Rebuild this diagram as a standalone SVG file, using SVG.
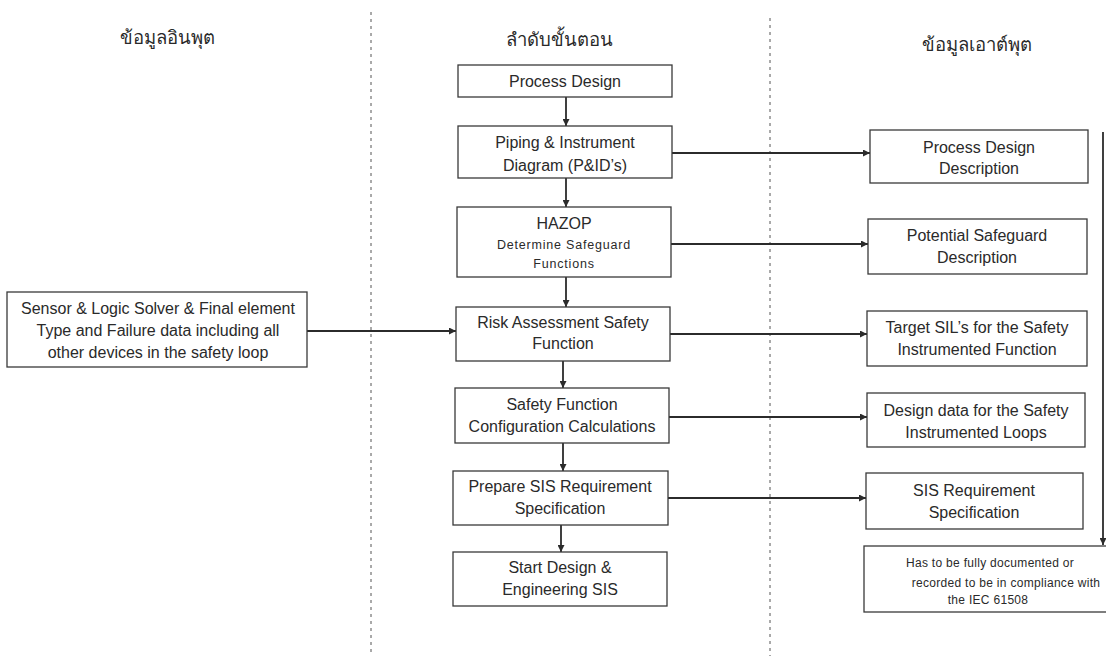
<svg xmlns="http://www.w3.org/2000/svg" width="1106" height="658" viewBox="0 0 1106 658">
  <defs>
    <marker id="arrow" viewBox="0 0 10 10" refX="10" refY="5" markerWidth="7" markerHeight="7" markerUnits="userSpaceOnUse" orient="auto">
      <path d="M0,0 L10,5 L0,10 z" fill="#2b2b2b"/>
    </marker>
    <style>
      .box { fill: #ffffff; stroke: #3a3a3a; stroke-width: 1.3; }
      .lbl { font-family: "Liberation Sans", Arial, sans-serif; font-size: 16px; fill: #2a2a2a; text-anchor: middle; }
      .sm { font-size: 12.5px; letter-spacing: 0.8px; }
      .note { font-size: 12px; letter-spacing: 0.3px; }
      .hdr { font-family: "Noto Sans", "DejaVu Sans", sans-serif; font-size: 18.5px; fill: #2a2a2a; text-anchor: middle; }
      .edge { fill: none; stroke: #2b2b2b; stroke-width: 1.8; marker-end: url(#arrow); }
      .lane { stroke: #555555; stroke-width: 1; stroke-dasharray: 3 4; }
    </style>
  </defs>
  <rect width="1106" height="658" fill="#ffffff"/>

  <!-- column separators -->
  <g id="lanes">
    <line class="lane" x1="371" y1="12" x2="371" y2="656"/>
    <line class="lane" x1="770" y1="18" x2="770" y2="656"/>
  </g>

  <!-- column headings -->
  <g id="headings">
    <text class="hdr" x="167" y="44">ข้อมูลอินพุต</text>
    <text class="hdr" x="559" y="46">ลำดับขั้นตอน</text>
    <text class="hdr" x="977" y="51">ข้อมูลเอาต์พุต</text>
  </g>

  <!-- connectors -->
  <g id="connectors">
    <line class="edge" x1="566" y1="97" x2="566" y2="126"/>
    <line class="edge" x1="566" y1="178" x2="566" y2="207"/>
    <line class="edge" x1="566" y1="277" x2="566" y2="307"/>
    <line class="edge" x1="563" y1="361" x2="563" y2="388"/>
    <line class="edge" x1="563" y1="443" x2="563" y2="471"/>
    <line class="edge" x1="561" y1="525" x2="561" y2="552"/>
    <line class="edge" x1="672" y1="153" x2="870" y2="153"/>
    <line class="edge" x1="671" y1="244" x2="868" y2="244"/>
    <line class="edge" x1="307" y1="331" x2="456" y2="331"/>
    <line class="edge" x1="670" y1="334" x2="867" y2="334"/>
    <line class="edge" x1="669" y1="417" x2="867" y2="417"/>
    <line class="edge" x1="668" y1="498" x2="866" y2="498"/>
    <line class="edge" x1="1103" y1="132" x2="1103" y2="545"/>
  </g>

  <!-- input -->
  <g id="input-data">
    <rect class="box" x="7" y="292" width="300" height="75"/>
    <text class="lbl" x="158" y="314">Sensor &amp; Logic Solver &amp; Final element</text>
    <text class="lbl" x="158" y="336">Type and Failure data including all</text>
    <text class="lbl" x="158" y="358">other devices in the safety loop</text>
  </g>

  <!-- procedure steps -->
  <g id="process-design">
    <rect class="box" x="458" y="65" width="214" height="32"/>
    <text class="lbl" x="565" y="87">Process Design</text>
  </g>
  <g id="pid">
    <rect class="box" x="458" y="126" width="214" height="52"/>
    <text class="lbl" x="565" y="148">Piping &amp; Instrument</text>
    <text class="lbl" x="565" y="171">Diagram (P&amp;ID’s)</text>
  </g>
  <g id="hazop">
    <rect class="box" x="457" y="207" width="214" height="70"/>
    <text class="lbl" x="564" y="229">HAZOP</text>
    <text class="lbl sm" x="564" y="249">Determine Safeguard</text>
    <text class="lbl sm" x="564" y="268">Functions</text>
  </g>
  <g id="risk-assessment">
    <rect class="box" x="456" y="307" width="214" height="54"/>
    <text class="lbl" x="563" y="328">Risk Assessment Safety</text>
    <text class="lbl" x="563" y="349">Function</text>
  </g>
  <g id="sf-calculations">
    <rect class="box" x="455" y="388" width="214" height="55"/>
    <text class="lbl" x="562" y="410">Safety Function</text>
    <text class="lbl" x="562" y="432">Configuration Calculations</text>
  </g>
  <g id="prepare-srs">
    <rect class="box" x="453" y="471" width="215" height="54"/>
    <text class="lbl" x="560" y="492">Prepare SIS Requirement</text>
    <text class="lbl" x="560" y="514">Specification</text>
  </g>
  <g id="start-design">
    <rect class="box" x="453" y="552" width="214" height="54"/>
    <text class="lbl" x="560" y="573">Start Design &amp;</text>
    <text class="lbl" x="560" y="595">Engineering SIS</text>
  </g>

  <!-- outputs -->
  <g id="pd-description">
    <rect class="box" x="870" y="130" width="218" height="53"/>
    <text class="lbl" x="979" y="153">Process Design</text>
    <text class="lbl" x="979" y="174">Description</text>
  </g>
  <g id="safeguard-description">
    <rect class="box" x="868" y="219" width="219" height="55"/>
    <text class="lbl" x="977" y="241">Potential Safeguard</text>
    <text class="lbl" x="977" y="263">Description</text>
  </g>
  <g id="target-sil">
    <rect class="box" x="867" y="311" width="220" height="55"/>
    <text class="lbl" x="977" y="333">Target SIL’s for the Safety</text>
    <text class="lbl" x="977" y="355">Instrumented Function</text>
  </g>
  <g id="loop-design-data">
    <rect class="box" x="867" y="393" width="218" height="54"/>
    <text class="lbl" x="976" y="416">Design data for the Safety</text>
    <text class="lbl" x="976" y="438">Instrumented Loops</text>
  </g>
  <g id="srs">
    <rect class="box" x="866" y="473" width="217" height="56"/>
    <text class="lbl" x="974" y="496">SIS Requirement</text>
    <text class="lbl" x="974" y="518">Specification</text>
  </g>
  <g id="documentation">
    <rect class="box" x="864" y="546" width="245" height="66"/>
    <text class="lbl note" x="990" y="567">Has to be fully documented  or</text>
    <text class="lbl note" x="1006" y="587">recorded to be in compliance with</text>
    <text class="lbl note" x="988" y="604">the IEC 61508</text>
  </g>
</svg>
